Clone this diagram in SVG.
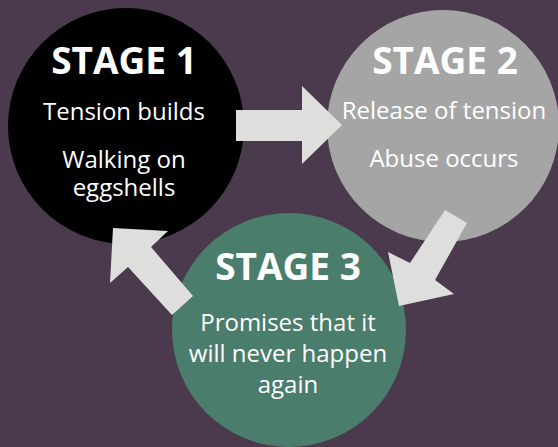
<svg xmlns="http://www.w3.org/2000/svg" width="558" height="447" viewBox="0 0 558 447">
<style>
.t{font-family:"Open Sans","Liberation Sans",sans-serif;font-weight:700;font-size:37px;fill:#fff;text-anchor:middle}
.b{font-family:"Open Sans","Liberation Sans",sans-serif;font-size:24px;fill:#fff;text-anchor:middle}
.a{fill:#DEDEDC}
</style>
<rect width="558" height="447" fill="#4B3A4E"/>
<g id="stage1">
<circle cx="126" cy="126" r="118" fill="#000"/>
<text class="t" x="124" y="74">STAGE 1</text>
<text class="b" x="124" y="120">Tension builds</text>
<text class="b" x="124" y="168">Walking on</text>
<text class="b" x="124" y="196">eggshells</text>
</g>
<g id="stage2">
<circle cx="443" cy="126" r="116" fill="#A5A5A5"/>
<text class="t" x="445" y="74">STAGE 2</text>
<text class="b" x="444" y="119">Release of tension</text>
<text class="b" x="444" y="167">Abuse occurs</text>
</g>
<g id="stage3">
<circle cx="289" cy="330" r="117" fill="#4B7D6C"/>
<text class="t" x="288" y="280">STAGE 3</text>
<text class="b" x="288" y="331">Promises that it</text>
<text class="b" x="288" y="362">will never happen</text>
<text class="b" x="288" y="393">again</text>
</g>
<g id="connectors">
<polygon class="a" points="236,110 302,110 302,86 342,125 302,164 302,141 236,141"/>
<polygon class="a" points="445,210 467,223 435,280 454,294 399,306 388,252 410,263"/>
<polygon class="a" points="193,296 172,315 128,267 110,283 113,228 168,231 151,247"/>
</g>
</svg>
